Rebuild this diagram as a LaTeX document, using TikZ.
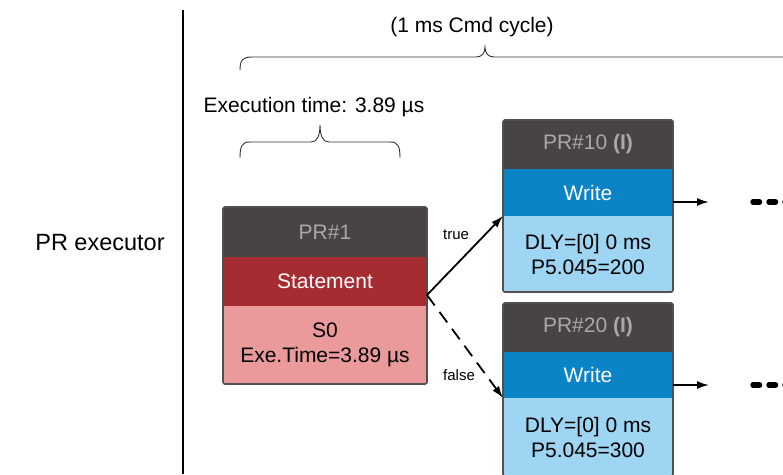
\documentclass[tikz,border=0pt]{standalone}
\usepackage{fontspec}
\setmainfont{Liberation Sans}
\usepackage{xcolor}
\usepackage{tikz}
\usetikzlibrary{arrows.meta,positioning}
\definecolor{prhead}{HTML}{484443}
\definecolor{prheadtxt}{HTML}{A8A8A8}
\definecolor{prred}{HTML}{A52D32}
\definecolor{prpink}{HTML}{EA9A9B}
\definecolor{prblue}{HTML}{0A84C6}
\definecolor{prbluepale}{HTML}{9DD5F2}
\definecolor{prframe}{HTML}{505050}

\tikzset{
  band/.style={inner sep=0pt,outer sep=0pt,align=center,font=\fontsize{21}{25}\selectfont},
  prhd/.style={band,fill=prhead,text=prheadtxt},
  stmt/.style={band,fill=prred,text=white},
  bodyred/.style={band,fill=prpink,text=black},
  wrt/.style={band,fill=prblue,text=white},
  bodyblue/.style={band,fill=prbluepale,text=black},
  frame/.style={draw=prframe,line width=1.6pt,rounded corners=2pt},
  conn/.style={line width=1.8pt,-{Latex[length=12pt,width=8pt]}},
  dotrow/.style={line width=5.5pt,line cap=round,dash pattern=on 6.5pt off 9.5pt},
  bracepath/.style={line width=0.9pt,black!80},
  lbl/.style={font=\fontsize{21}{25}\selectfont},
  small/.style={font=\fontsize{15}{18}\selectfont}
}

\begin{document}
\begin{tikzpicture}[x=1pt,y=-1pt]
  \clip (0,0) rectangle (783,474);
  \draw[line width=1.6pt] (183,10) -- (183,474);
  \node[font=\fontsize{23.5}{28}\selectfont] (exec) at (100,243) {PR executor};

  % cycle and execution time
  \node[lbl] (cycle) at (472,27) {(1 ms Cmd cycle)};
  \draw[bracepath] (240,70) .. controls (240,60) and (243,57) .. (252,57) -- (476,57)
    .. controls (482,57) and (485,53) .. (485,47) .. controls (485,53) and (488,57) .. (494,57) -- (790,57);
  \node[lbl] (exetime) at (314,107) {Execution time: 3.89 µs};
  \draw[bracepath] (240,158) .. controls (240,146) and (242,142) .. (250,142) -- (311,142)
    .. controls (317,142) and (320,136) .. (320,125) .. controls (320,136) and (323,142) .. (329,142)
    -- (390,142) .. controls (398,142) and (400,146) .. (400,158);

  % PR#1
  \node[prhd,minimum width=204,minimum height=50] (pr1h) at (325,232) {PR\#1};
  \node[stmt,minimum width=204,minimum height=49,below=0pt of pr1h] (pr1s) {Statement};
  \node[bodyred,minimum width=204,minimum height=78,below=0pt of pr1s] (pr1b) {S0\\Exe.Time=3.89 µs};
  \draw[frame] (pr1h.north west) rectangle (pr1b.south east);

  % PR#10
  \node[prhd,minimum width=170,minimum height=49] (pr10h) at (588,144.5) {PR\#10 \textbf{(I)}};
  \node[wrt,minimum width=170,minimum height=47,below=0pt of pr10h] (pr10s) {Write};
  \node[bodyblue,minimum width=170,minimum height=76,below=0pt of pr10s] (pr10b) {DLY=[0] 0 ms\\P5.045=200};
  \draw[frame] (pr10h.north west) rectangle (pr10b.south east);

  % PR#20
  \node[prhd,minimum width=170,minimum height=49] (pr20h) at (588,327.5) {PR\#20 \textbf{(I)}};
  \node[wrt,minimum width=170,minimum height=46,below=0pt of pr20h] (pr20s) {Write};
  \node[bodyblue,minimum width=170,minimum height=78,below=0pt of pr20s] (pr20b) {DLY=[0] 0 ms\\P5.045=300};
  \draw[frame] (pr20h.north west) rectangle (pr20b.south east);

  % branches
  \coordinate (fork) at ([yshift=11pt]pr1s.south east);
  \draw[conn] (fork) -- (pr10b.north west);
  \draw[conn,dash pattern=on 13pt off 8pt] (fork) -- (pr20b.north west);
  \node[small] (iftrue) at (456,235) {true};
  \node[small] (iffalse) at (459,375) {false};

  % next steps
  \coordinate (next10) at (709,202);
  \coordinate (next20) at (709,385);
  \draw[conn] (pr10s.east |- next10) -- (next10);
  \draw[conn] (pr20s.east |- next20) -- (next20);
  \coordinate (dots10) at (753,202);
  \coordinate (dots20) at (753,385);
  \draw[dotrow] (dots10) -- ++(50,0);
  \draw[dotrow] (dots20) -- ++(50,0);
\end{tikzpicture}
\end{document}
